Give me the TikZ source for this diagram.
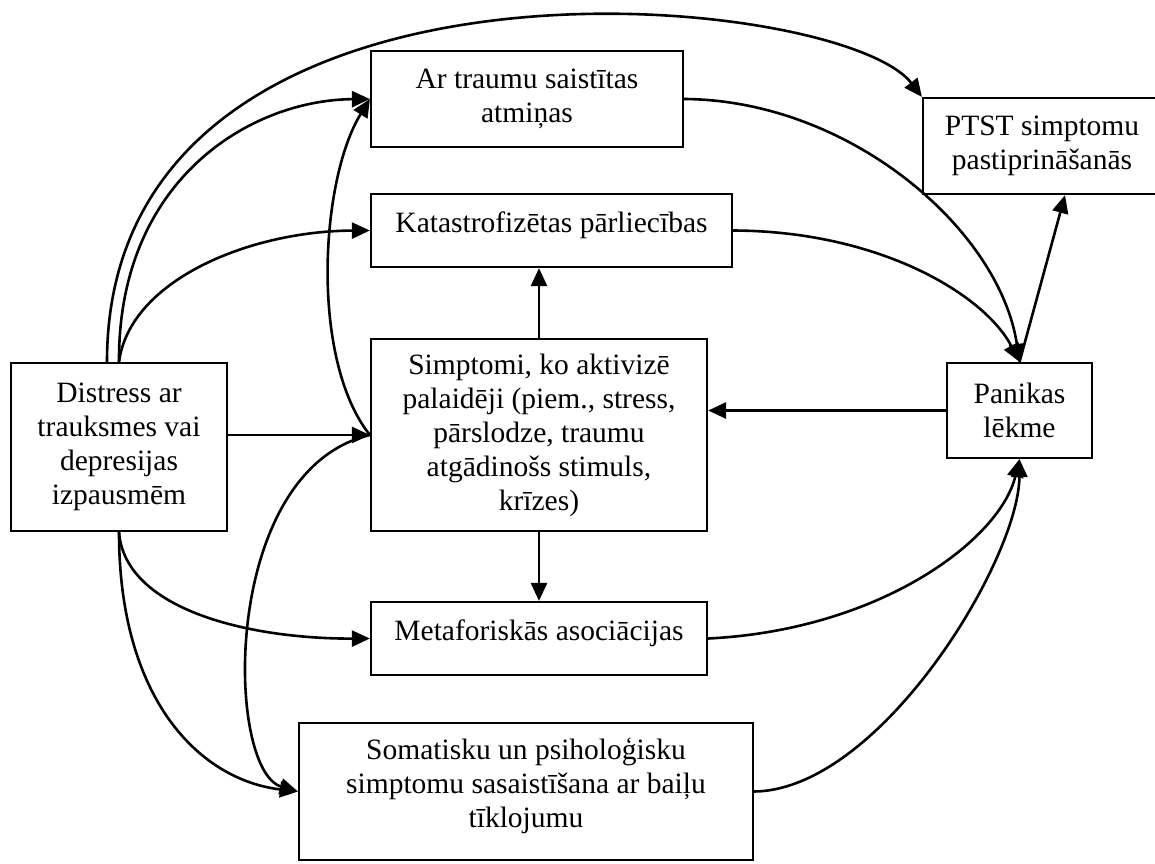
\documentclass[tikz,border=0pt]{standalone}
\usepackage{fontspec}
\setmainfont{Liberation Serif}
\usetikzlibrary{arrows.meta}
\begin{document}
\begin{tikzpicture}[x=1pt,y=-1pt,
  box/.style={draw, line width=2.2pt, align=center, inner sep=0pt,
    font=\fontsize{29.5}{34}\selectfont},
  link/.style={line width=2.6pt, -{Triangle[length=18pt,width=16pt]}},
]
\useasboundingbox (0,0) rectangle (1155,863);
\clip (0,0) rectangle (1155,863);

% boxes
\node[box, minimum width=216, minimum height=168] (dis) at (119,447)
  {Distress ar\\trauksmes vai\\depresijas\\izpausmēm};
\node[box, minimum width=312, minimum height=96] (mem) at (527,99)
  {Ar traumu saistītas\\atmiņas};
\node[box, minimum width=238, minimum height=96] (ptst) at (1042,146)
  {PTST simptomu\\pastiprināšanās};
\node[box, minimum width=361, minimum height=73, text depth=16.5pt] (kat) at (551.5,230.5)
  {Katastrofizētas pārliecības};
\node[box, minimum width=336, minimum height=192] (sim) at (539,435)
  {Simptomi, ko aktivizē\\palaidēji (piem., stress,\\pārslodze, traumu\\atgādinošs stimuls,\\krīzes)};
\node[box, minimum width=145, minimum height=95] (pan) at (1019.5,410.5)
  {Panikas\\lēkme};
\node[box, minimum width=336, minimum height=73, text depth=17.5pt] (met) at (539,638.5)
  {Metaforiskās asociācijas};
\node[box, minimum width=454, minimum height=137, text depth=16.5pt] (som) at (526,791.5)
  {Somatisku un psiholoģisku\\simptomu sasaistīšana ar baiļu\\tīklojumu};

% connectors leaving the distress box
\draw[link] ([xshift=-12pt]dis.north) .. controls (107,-80) and (840,-10) .. (ptst.north west);
\draw[link] (dis.north) .. controls (118,180) and (250,100) .. (mem.west);
\draw[link] (dis.north) .. controls (130,280) and (250,231) .. (kat.west);
\draw[link] (dis.east |- sim.west) -- (sim.west);
\draw[link] (dis.south) .. controls (125,610) and (250,639) .. (met.west);
\draw[link] (dis.south) .. controls (119,700) and (200,780) .. (som.west);

% connectors leaving the trigger box
\draw[link] (sim.west) .. controls (310,360) and (320,180) .. (mem.west);
\draw[link] (sim.west) .. controls (220,470) and (225,770) .. (som.west);
\draw[link] (sim.north) -- (sim.north |- kat.south);
\draw[link] (sim.south) -- (met.north);

% connectors into and out of the panic box
\draw[link] (mem.east) .. controls (850,100) and (1000,230) .. (pan.north);
\draw[link] (kat.east) .. controls (880,231) and (985,295) .. (pan.north);
\draw[link] (met.east) .. controls (880,630) and (1000,540) .. (pan.south);
\draw[link] (som.east) .. controls (880,790) and (1019,560) .. (pan.south);
\draw[link] (pan.north) -- ([xshift=23pt]ptst.south);
\draw[link] (pan.west) -- (pan.west -| sim.east);
\end{tikzpicture}
\end{document}
